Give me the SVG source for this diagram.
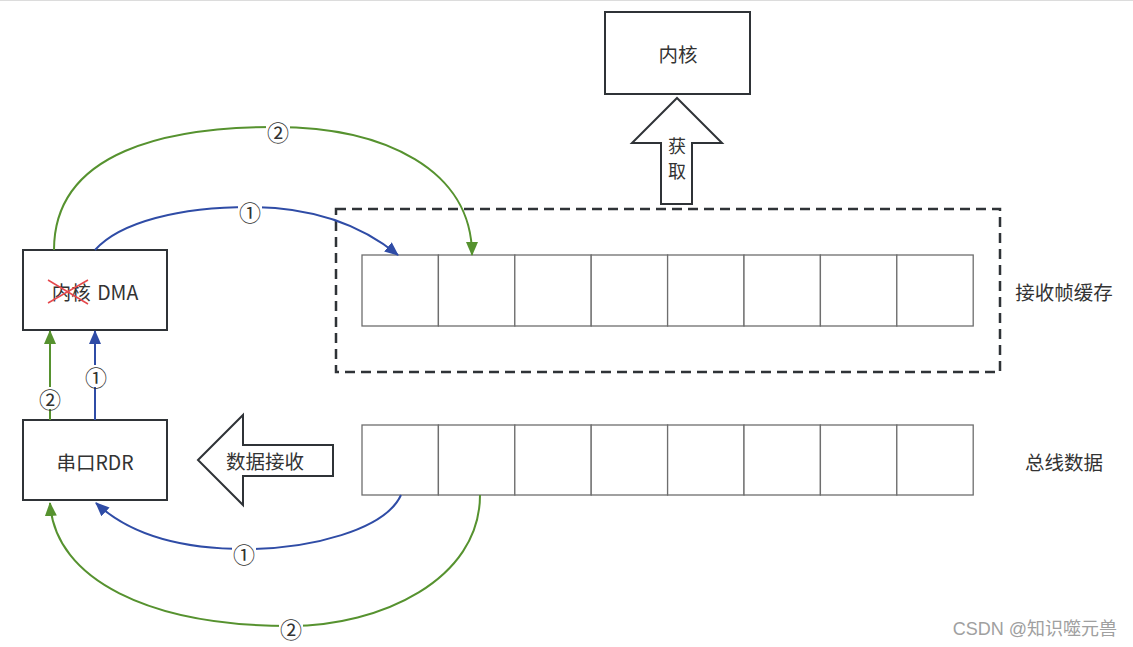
<svg xmlns="http://www.w3.org/2000/svg" width="1133" height="647" viewBox="0 0 1133 647">
<defs>
<style>
.box{fill:#fff;stroke:#2f3337;stroke-width:2}
.cell{fill:#fff;stroke:#6e6e6e;stroke-width:1.3}
.t{font-family:"Noto Sans CJK SC","Noto Sans",sans-serif;font-size:19.5px;fill:#333;text-anchor:middle;dominant-baseline:central}
.lbl{font-family:"Noto Sans CJK SC","Noto Sans",sans-serif;font-size:22px;fill:#333;text-anchor:middle;dominant-baseline:central}
.g{fill:none;stroke:#56922f;stroke-width:2}
.b{fill:none;stroke:#2f4ca6;stroke-width:2}
</style>
<marker id="ag" viewBox="0 0 14 12" refX="13" refY="6" markerWidth="14" markerHeight="12" markerUnits="userSpaceOnUse" orient="auto"><path d="M0,0 L14,6 L0,12 Z" fill="#56922f"/></marker>
<marker id="ab" viewBox="0 0 14 12" refX="13" refY="6" markerWidth="14" markerHeight="12" markerUnits="userSpaceOnUse" orient="auto"><path d="M0,0 L14,6 L0,12 Z" fill="#2f4ca6"/></marker>
</defs>
<rect width="1133" height="647" fill="#fff"/>
<line x1="0" y1="0.5" x2="1133" y2="0.5" stroke="#dcdcdc"/>

<g id="buffer-frame">
<rect x="336" y="209" width="664" height="163" fill="none" stroke="#2f3337" stroke-width="2.5" stroke-dasharray="10,6"/>
</g>
<g id="buffer-cells">
<rect class="cell" x="362" y="255" width="76.4" height="71"/>
<rect class="cell" x="438.4" y="255" width="76.4" height="71"/>
<rect class="cell" x="514.8" y="255" width="76.4" height="71"/>
<rect class="cell" x="591.2" y="255" width="76.4" height="71"/>
<rect class="cell" x="667.6" y="255" width="76.4" height="71"/>
<rect class="cell" x="744" y="255" width="76.4" height="71"/>
<rect class="cell" x="820.4" y="255" width="76.4" height="71"/>
<rect class="cell" x="896.8" y="255" width="76.4" height="71"/>
</g>
<g id="bus-cells">
<rect class="cell" x="362" y="425" width="76.4" height="70"/>
<rect class="cell" x="438.4" y="425" width="76.4" height="70"/>
<rect class="cell" x="514.8" y="425" width="76.4" height="70"/>
<rect class="cell" x="591.2" y="425" width="76.4" height="70"/>
<rect class="cell" x="667.6" y="425" width="76.4" height="70"/>
<rect class="cell" x="744" y="425" width="76.4" height="70"/>
<rect class="cell" x="820.4" y="425" width="76.4" height="70"/>
<rect class="cell" x="896.8" y="425" width="76.4" height="70"/>
</g>
<text class="t" x="1064" y="291">接收帧缓存</text>
<text class="t" x="1064" y="461">总线数据</text>

<g id="kernel">
<rect class="box" x="605" y="12" width="145" height="82"/>
<text class="t" x="678" y="53">内核</text>
</g>
<g id="fetch-arrow">
<path d="M677,98 L722,143 L692,143 L692,204 L661,204 L661,143 L632,143 Z" fill="#fff" stroke="#2f3337" stroke-width="2" stroke-linejoin="miter"/>
<text class="t" style="font-size:18px"><tspan x="677" y="145">获</tspan><tspan x="677" y="170">取</tspan></text>
</g>
<g id="dma">
<rect class="box" x="23" y="250" width="144" height="80"/>
<text class="t" x="95" y="291"><tspan>内核</tspan><tspan dx="2"> DMA</tspan></text>
<line x1="48" y1="280" x2="88" y2="304" stroke="#e5484d" stroke-width="1.5"/>
<line x1="48" y1="303" x2="88" y2="280" stroke="#e5484d" stroke-width="1.5"/>
</g>
<g id="rdr">
<rect class="box" x="23" y="420" width="144" height="80"/>
<text class="t" x="95" y="461">串口RDR</text>
</g>
<g id="receive-arrow">
<path d="M198,460 L243,415 L243,445 L333,445 L333,476 L243,476 L243,505 Z" fill="#fff" stroke="#2f3337" stroke-width="2"/>
<text class="t" x="265" y="460">数据接收</text>
</g>

<g id="connectors">
<path class="g" d="M54,250 C54,150 170,127 275,127 C385,127 472,170 472,255" marker-end="url(#ag)"/>
<path class="b" d="M95,250 C120,222 180,207 250,207 C310,207 360,224 398,255" marker-end="url(#ab)"/>
<path class="g" d="M50,420 L50,331" marker-end="url(#ag)"/>
<path class="b" d="M95,420 L95,331" marker-end="url(#ab)"/>
<path class="b" d="M401,495 C385,530 310,549 245,549 C180,549 130,535 96,503" marker-end="url(#ab)"/>
<path class="g" d="M480,495 C480,580 380,626 290,626 C150,626 55,580 50,503" marker-end="url(#ag)"/>
<rect x="266" y="120" width="24" height="22" fill="#fff"/>
<text class="lbl" x="278" y="131">②</text>
<rect x="238" y="200" width="24" height="22" fill="#fff"/>
<text class="lbl" x="250" y="211">①</text>
<rect x="84" y="365" width="24" height="22" fill="#fff"/>
<text class="lbl" x="96" y="376">①</text>
<rect x="38" y="387" width="24" height="22" fill="#fff"/>
<text class="lbl" x="50" y="398">②</text>
<rect x="232" y="542" width="24" height="22" fill="#fff"/>
<text class="lbl" x="244" y="553">①</text>
<rect x="279" y="617" width="24" height="22" fill="#fff"/>
<text class="lbl" x="291" y="628">②</text>
</g>
<text x="1117" y="629" font-family="'Liberation Sans','Noto Sans CJK SC',sans-serif" font-size="18" fill="#a0a0a0" text-anchor="end" dominant-baseline="central">CSDN @知识噬元兽</text>
</svg>
